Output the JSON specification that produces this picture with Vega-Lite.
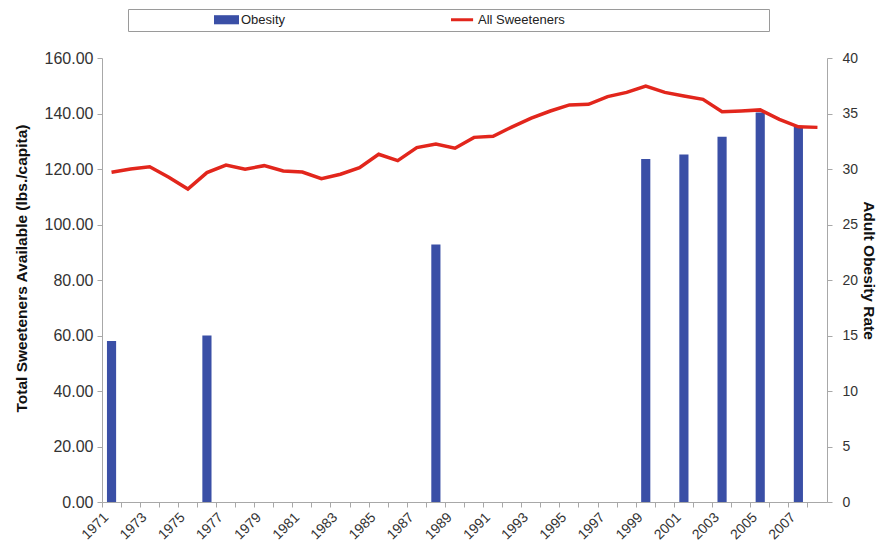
{
  "$schema": "https://vega.github.io/schema/vega-lite/v6.json",
  "width": 725,
  "height": 444,
  "autosize": "none",
  "padding": {"left": 102, "top": 58, "right": 50, "bottom": 50},
  "background": "white",
  "config": {
    "view": {"stroke": null},
    "font": "Liberation Sans",
    "axis": {
      "domainColor": "#a8a8a8",
      "tickColor": "#a8a8a8",
      "tickSize": 5,
      "labelColor": "#333333",
      "titleColor": "#111111",
      "grid": false,
      "labelFont": "Liberation Sans",
      "titleFont": "Liberation Sans",
      "titleFontWeight": "bold",
      "titleFontSize": 15.5
    }
  },
  "data": {
    "values": [
      {"year": 1971, "sweeteners": 118.8, "obesity": 14.5},
      {"year": 1972, "sweeteners": 120.0, "obesity": null},
      {"year": 1973, "sweeteners": 120.8, "obesity": null},
      {"year": 1974, "sweeteners": 117.0, "obesity": null},
      {"year": 1975, "sweeteners": 112.8, "obesity": null},
      {"year": 1976, "sweeteners": 118.7, "obesity": 15.0},
      {"year": 1977, "sweeteners": 121.4, "obesity": null},
      {"year": 1978, "sweeteners": 119.9, "obesity": null},
      {"year": 1979, "sweeteners": 121.2, "obesity": null},
      {"year": 1980, "sweeteners": 119.3, "obesity": null},
      {"year": 1981, "sweeteners": 118.9, "obesity": null},
      {"year": 1982, "sweeteners": 116.5, "obesity": null},
      {"year": 1983, "sweeteners": 118.1, "obesity": null},
      {"year": 1984, "sweeteners": 120.5, "obesity": null},
      {"year": 1985, "sweeteners": 125.3, "obesity": null},
      {"year": 1986, "sweeteners": 123.0, "obesity": null},
      {"year": 1987, "sweeteners": 127.7, "obesity": null},
      {"year": 1988, "sweeteners": 129.0, "obesity": 23.2},
      {"year": 1989, "sweeteners": 127.5, "obesity": null},
      {"year": 1990, "sweeteners": 131.4, "obesity": null},
      {"year": 1991, "sweeteners": 131.8, "obesity": null},
      {"year": 1992, "sweeteners": 135.2, "obesity": null},
      {"year": 1993, "sweeteners": 138.3, "obesity": null},
      {"year": 1994, "sweeteners": 140.9, "obesity": null},
      {"year": 1995, "sweeteners": 143.1, "obesity": null},
      {"year": 1996, "sweeteners": 143.3, "obesity": null},
      {"year": 1997, "sweeteners": 146.1, "obesity": null},
      {"year": 1998, "sweeteners": 147.6, "obesity": null},
      {"year": 1999, "sweeteners": 149.9, "obesity": 30.9},
      {"year": 2000, "sweeteners": 147.6, "obesity": null},
      {"year": 2001, "sweeteners": 146.3, "obesity": 31.3},
      {"year": 2002, "sweeteners": 145.1, "obesity": null},
      {"year": 2003, "sweeteners": 140.6, "obesity": 32.9},
      {"year": 2004, "sweeteners": 140.9, "obesity": null},
      {"year": 2005, "sweeteners": 141.3, "obesity": 35.1},
      {"year": 2006, "sweeteners": 137.9, "obesity": null},
      {"year": 2007, "sweeteners": 135.2, "obesity": 33.8},
      {"year": 2008, "sweeteners": 135.0, "obesity": null}
    ]
  },
  "encoding": {
    "x": {
      "field": "year",
      "type": "ordinal",
      "scale": {"paddingInner": 0, "paddingOuter": 0},
      "axis": {
        "title": null,
        "bandPosition": 0,
        "labelAngle": -45,
        "labelAlign": "right",
        "labelBaseline": "middle",
        "labelPadding": 8,
        "labelOffset": -5,
        "labelFontSize": 14,
        "labelOverlap": false,
        "labelExpr": "datum.value % 2 == 1 ? datum.label : ''"
      }
    }
  },
  "layer": [
    {
      "transform": [{"filter": "isValid(datum.obesity)"}],
      "mark": {"type": "bar", "width": {"band": 0.48}},
      "encoding": {
        "y": {
          "field": "obesity",
          "type": "quantitative",
          "scale": {"domain": [0, 40], "nice": false},
          "axis": {
            "orient": "right",
            "title": "Adult Obesity Rate",
            "titleY": 212,
            "values": [0, 5, 10, 15, 20, 25, 30, 35, 40],
            "format": "d",
            "labelFontSize": 14,
            "labelPadding": 10,
            "titlePadding": 3
          }
        },
        "color": {
          "datum": "Obesity",
          "type": "nominal",
          "scale": {"domain": ["Obesity", "All Sweeteners"], "range": ["#3a4fa6", "#e2261c"]},
          "legend": {
            "orient": "none",
            "legendX": 26,
            "legendY": -49,
            "direction": "horizontal",
            "title": "\u00a0",
            "titleOrient": "left",
            "titleFontSize": 12,
            "titlePadding": 82,
            "padding": 4,
            "strokeColor": "#9a9a9a",
            "fillColor": "white",
            "columnPadding": 165,
            "symbolSize": 169,
            "labelFontSize": 13,
            "labelColor": "#222222",
            "labelOffset": 14,
            "labelLimit": 600,
            "labelExpr": "datum.label == 'All Sweeteners' ? datum.label + pad('', 20, '\u2800') : datum.label",
            "encode": {
              "symbols": {
                "update": {
                  "shape": {"signal": "datum.value == 'Obesity' ? 'M-1,-0.7H2.85V0.7H-1Z' : 'M-1,-0.23H2.4V0.23H-1Z'"},
                  "fill": {"signal": "datum.value == 'Obesity' ? '#3a4fa6' : '#e2261c'"},
                  "strokeWidth": {"value": 0},
                  "opacity": {"value": 1}
                }
              }
            }
          }
        }
      }
    },
    {
      "mark": {"type": "line", "strokeWidth": 3.5},
      "encoding": {
        "y": {
          "field": "sweeteners",
          "type": "quantitative",
          "scale": {"domain": [0, 160], "nice": false},
          "axis": {
            "orient": "left",
            "title": "Total Sweeteners Available (lbs./capita)",
            "titleY": 210,
            "values": [0, 20, 40, 60, 80, 100, 120, 140, 160],
            "format": ".2f",
            "labelFontSize": 16,
            "labelPadding": 4,
            "titlePadding": 15
          }
        },
        "color": {"datum": "All Sweeteners", "type": "nominal"}
      }
    }
  ],
  "resolve": {"scale": {"y": "independent"}}
}
